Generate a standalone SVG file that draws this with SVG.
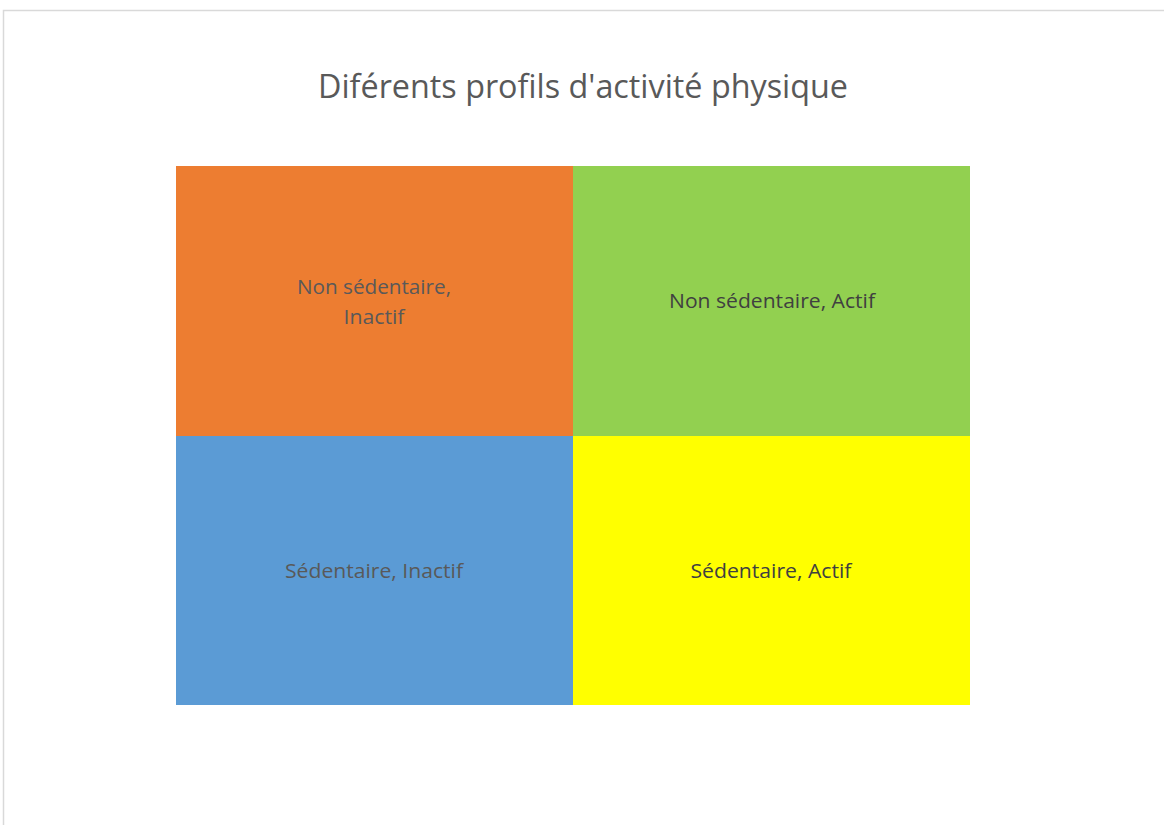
<svg xmlns="http://www.w3.org/2000/svg" width="1164" height="825" viewBox="0 0 1164 825">
<style>
.t{font-family:"Open Sans","Liberation Sans",sans-serif;text-anchor:middle}
.lbl{font-size:20px}
.dk{fill:#595959}
.dk2{fill:#404040}
</style>
<rect x="0" y="0" width="1164" height="825" fill="#ffffff"/>
<rect x="3.5" y="10.5" width="1200" height="900" fill="none" stroke="#d9d9d9" stroke-width="1.5"/>
<text class="t dk" x="583" y="98" font-size="32" textLength="530" lengthAdjust="spacingAndGlyphs">Diférents profils d'activité physique</text>
<g id="n1">
<rect x="176" y="166" width="397" height="270" fill="#ed7d31"/>
<text class="t lbl dk" x="374" y="294" textLength="154" lengthAdjust="spacingAndGlyphs">Non sédentaire,</text>
<text class="t lbl dk" x="374" y="324" textLength="61" lengthAdjust="spacingAndGlyphs">Inactif</text>
</g>
<g id="n2">
<rect x="573" y="166" width="397" height="270" fill="#92d050"/>
<text class="t lbl dk2" x="772" y="308" textLength="206" lengthAdjust="spacingAndGlyphs">Non sédentaire, Actif</text>
</g>
<g id="n3">
<rect x="176" y="436" width="397" height="269" fill="#5b9bd5"/>
<text class="t lbl dk" x="374" y="578" textLength="178" lengthAdjust="spacingAndGlyphs">Sédentaire, Inactif</text>
</g>
<g id="n4">
<rect x="573" y="436" width="397" height="269" fill="#ffff00"/>
<text class="t lbl dk2" x="771" y="578" textLength="161" lengthAdjust="spacingAndGlyphs">Sédentaire, Actif</text>
</g>
<g id="connectors"></g>
</svg>
